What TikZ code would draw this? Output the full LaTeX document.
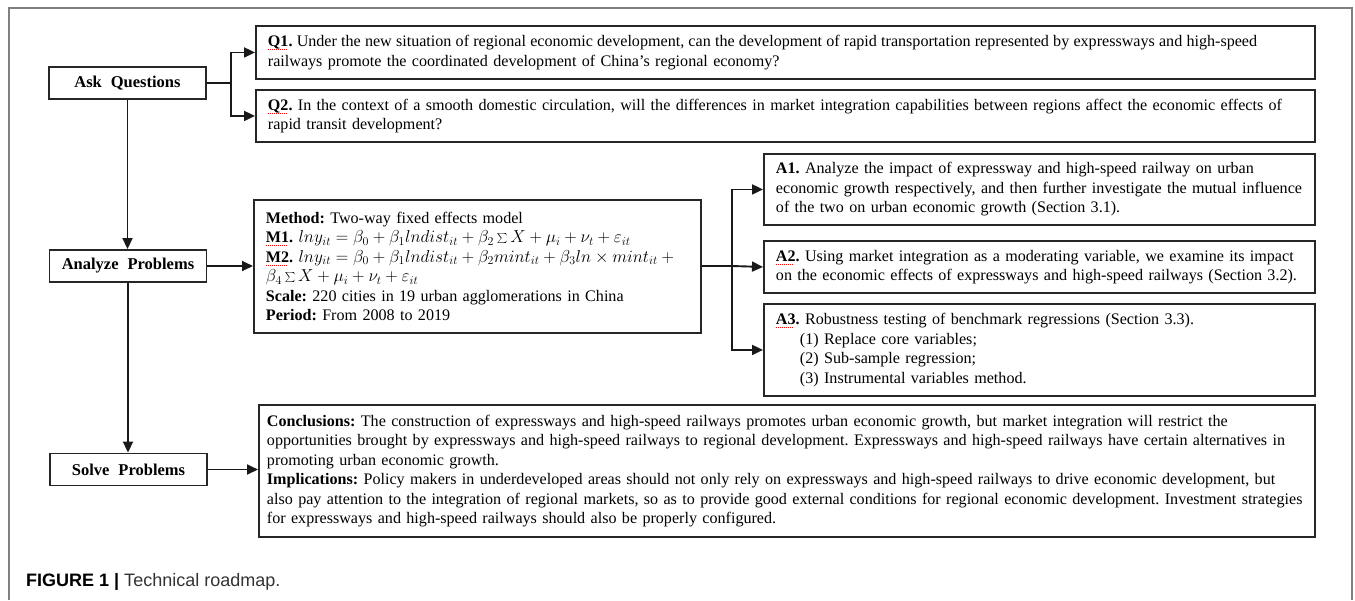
\documentclass[tikz,border=0pt]{standalone}
\usepackage{fontspec}
\setmainfont{Liberation Serif}
\newfontfamily\capfont{Liberation Sans}
\usetikzlibrary{arrows.meta}
\newcommand\sqw[1]{\setbox0\hbox{#1}\rlap{\copy0}{\color{red}\leaders\hbox{\rule[-3.2pt]{1.1pt}{0.7pt}\kern0.9pt}\hskip\wd0}}
\newcommand\eqbig[1]{{\fontsize{17.8}{19.5}\selectfont$#1$}}
\newskip\qskip
\qskip=4.2pt
\newcommand\qsp{\spaceskip=\qskip}
\frenchspacing
\tikzset{
  tbox/.style={draw=black!85, line width=1.9pt, anchor=north west, align=left,
    inner xsep=12pt, inner ysep=0pt, font=\fontsize{16.1}{19.5}\selectfont\frenchspacing},
  lbox/.style={draw=black!85, line width=1.9pt, minimum width=157pt, minimum height=32pt,
    inner sep=0pt, font=\fontsize{16.5}{19}\selectfont\bfseries},
  conn/.style={line width=1.9pt, draw=black!90},
  arr/.style={conn, -{Triangle[length=11pt,width=10pt]}},
  frame/.style={draw=black!50, line width=1.2pt}
}
\begin{document}
\begin{tikzpicture}[x=1pt,y=-1pt]
\useasboundingbox (0,0) rectangle (1355,600);
\draw[frame] (9,600) -- (9,8) -- (1352,8) -- (1352,600);

% left column
\node[lbox] (ask) at (127.5,83) {Ask\hspace{9pt}Questions};
\node[lbox] (analyze) at (128,266) {Analyze\hspace{9pt}Problems};
\node[lbox] (solve) at (128.5,469.5) {Solve\hspace{9pt}Problems};

% questions
\node[tbox, text width=1035pt, minimum height=53pt] (q1) at (255,25) {\begingroup\qsp\textbf{\sqw{Q1}.} Under the new situation of regional economic development, can the development of rapid transportation represented by expressways and high-speed\endgroup\\railways promote the coordinated development of China's regional economy?};
\node[tbox, text width=1035pt, minimum height=52pt] (q2) at (255,89) {\textbf{\sqw{Q2}.} In the context of a smooth domestic circulation, will the differences in market integration capabilities between regions affect the economic effects of\\rapid transit development?};

% method
\node[tbox, text width=423pt, minimum height=133pt] (method) at (253,199) {\textbf{Method:} Two-way fixed effects model\\
\textbf{\sqw{M1}.} \eqbig{lny_{it}=\beta_0+\beta_1 lndist_{it}+\beta_2\sum X+\mu_i+\nu_t+\varepsilon_{it}}\\
\textbf{\sqw{M2}.} \eqbig{lny_{it}=\beta_0+\beta_1 lndist_{it}+\beta_2 mint_{it}+\beta_3 ln\times mint_{it}+{}}\\
\eqbig{\beta_4\sum X+\mu_i+\nu_t+\varepsilon_{it}}\\
\textbf{Scale:} 220 cities in 19 urban agglomerations in China\\
\textbf{Period:} From 2008 to 2019};

% answers
\node[tbox, text width=527pt, minimum height=71pt] (a1) at (763,153) {\textbf{A1.} Analyze the impact of expressway and high-speed railway on urban\\economic growth respectively, and then further investigate the mutual influence\\of the two on urban economic growth (Section 3.1).};
\node[tbox, text width=527pt, minimum height=52pt] (a2) at (763,240) {\textbf{\sqw{A2}.} Using market integration as a moderating variable, we examine its impact\\on the economic effects of expressways and high-speed railways (Section 3.2).};
\node[tbox, text width=527pt, minimum height=92pt] (a3) at (763,303) {\textbf{\sqw{A3}.} Robustness testing of benchmark regressions (Section 3.3).\\
\hspace*{24pt}(1) Replace core variables;\\
\hspace*{24pt}(2) Sub-sample regression;\\
\hspace*{24pt}(3) Instrumental variables method.};

% conclusions
\node[tbox, inner xsep=8pt, text width=1040pt, minimum height=132pt] (concl) at (258,404) {\textbf{Conclusions:} The construction of expressways and high-speed railways promotes urban economic growth, but market integration will restrict the\\
opportunities brought by expressways and high-speed railways to regional development. Expressways and high-speed railways have certain alternatives in\\
promoting urban economic growth.\\
\textbf{Implications:} Policy makers in underdeveloped areas should not only rely on expressways and high-speed railways to drive economic development, but\\
also pay attention to the integration of regional markets, so as to provide good external conditions for regional economic development. Investment strategies\\
for expressways and high-speed railways should also be properly configured.};

% connectors
\coordinate (bq) at (231,83);
\coordinate (ba) at (732,266);
\draw[conn] (ask.east) -- (bq);
\draw[arr] (bq) |- (q1.west);
\draw[arr] (bq) |- (q2.west);
\draw[arr] (ask.south) -- (ask.south |- analyze.north);
\draw[arr] (analyze.south) -- (analyze.south |- solve.north);
\draw[arr] (analyze.east) -- (analyze.east -| method.west);
\draw[conn] (method.east |- ba) -- (ba);
\draw[arr] (ba) |- (a1.west);
\draw[arr] (ba) -- (a2.west);
\draw[arr] (ba) |- (a3.west);
\draw[arr] (solve.east) -- (solve.east -| concl.west);

% caption
\node[anchor=west, inner sep=0pt, font=\capfont\fontsize{18}{20}\selectfont] (cap) at (26,582)
  {\textbf{FIGURE 1} \textbf{|} \textcolor{black!80}{Technical roadmap.}};
\end{tikzpicture}
\end{document}
